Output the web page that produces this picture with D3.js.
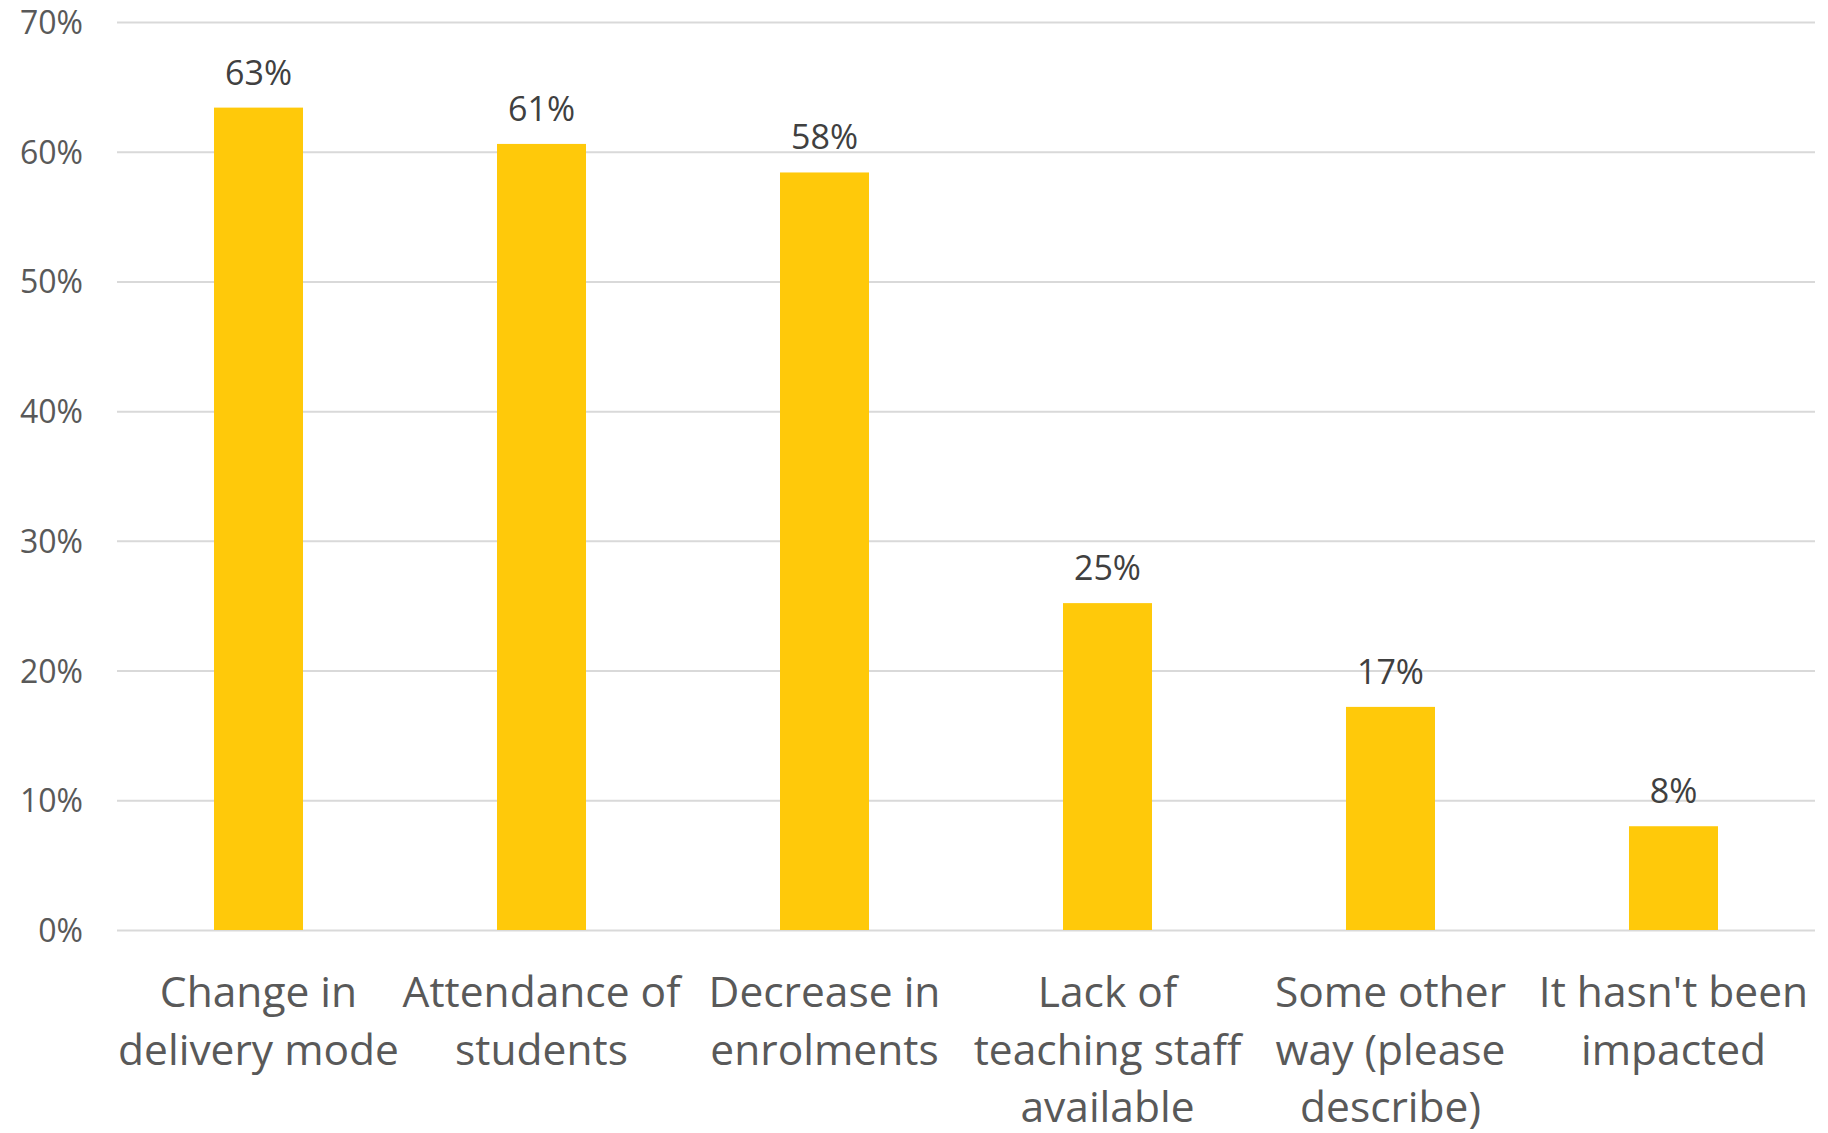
<!DOCTYPE html>
<html>
<head>
<meta charset="utf-8">
<script src="https://cdn.jsdelivr.net/npm/d3@7"></script>
<style>
  body { margin: 0; background: #fff; }
  text { font-family: "Open Sans", sans-serif; }
</style>
</head>
<body>
<div id="chart"></div>
<script>
// category labels, line breaks as in the original
var categories = [
    "Change in\ndelivery mode",
    "Attendance of\nstudents",
    "Decrease in\nenrolments",
    "Lack of\nteaching staff\navailable",
    "Some other\nway (please\ndescribe)",
    "It hasn't been\nimpacted"
];
var values = [0.634, 0.606, 0.584, 0.252, 0.172, 0.080];
var valueLabels = ["63%", "61%", "58%", "25%", "17%", "8%"];
var yTicks = [0, 0.1, 0.2, 0.3, 0.4, 0.5, 0.6, 0.7];

var margin = { top: 22, right: 13, bottom: 203, left: 117 };
var width = 1828 - margin.left - margin.right;
var height = 1133 - margin.top - margin.bottom;

var svg = d3.select("#chart").append("svg")
    .attr("width", 1828)
    .attr("height", 1133)
    .append("g")
    .attr("transform", "translate(" + margin.left + "," + margin.top + ")");

var x = d3.scaleBand()
    .domain(categories)
    .range([0, width])
    .paddingInner(0.6855)
    .paddingOuter(0.3428);

var y = d3.scaleLinear()
    .domain([0, 0.7])
    .range([height, 0]);

// gridlines + tick labels
var yAxis = d3.axisLeft(y)
    .tickValues(yTicks)
    .tickSize(-width)
    .tickPadding(34)
    .tickFormat(d3.format(".0%"));

var gy = svg.append("g").attr("class", "y-axis").call(yAxis);
gy.select(".domain").remove();
gy.selectAll(".tick line")
    .attr("stroke", "#d9d9d9")
    .attr("stroke-width", 2);
gy.selectAll(".tick text")
    .attr("fill", "#595959")
    .style("font-size", "32px")
    .attr("dy", "0.36em");

svg.selectAll("rect.bar")
    .data(values)
    .enter()
    .append("rect")
    .attr("class", "bar")
    .attr("x", function (d, i) { return x(categories[i]); })
    .attr("y", function (d) { return y(d); })
    .attr("width", x.bandwidth())
    .attr("height", function (d) { return height - y(d); })
    .attr("fill", "#ffc90a");

svg.selectAll("text.val")
    .data(values)
    .enter()
    .append("text")
    .attr("class", "val")
    .attr("x", function (d, i) { return x(categories[i]) + x.bandwidth() / 2; })
    .attr("y", function (d) { return y(d) - 23; })
    .attr("text-anchor", "middle")
    .attr("fill", "#404040")
    .style("font-size", "34px")
    .text(function (d, i) { return valueLabels[i]; });

// category labels below the axis
var cat = svg.selectAll("text.cat")
    .data(categories)
    .enter()
    .append("text")
    .attr("class", "cat")
    .attr("text-anchor", "middle")
    .attr("fill", "#595959")
    .style("font-size", "42.5px")
    .attr("transform", function (d) {
        return "translate(" + (x(d) + x.bandwidth() / 2) + "," + (height + 77) + ")";
    });

cat.selectAll("tspan")
    .data(function (d) { return d.split("\n"); })
    .enter()
    .append("tspan")
    .attr("x", 0)
    .attr("y", function (d, i) { return i * 57.5; })
    .text(function (d) { return d; });
</script>
</body>
</html>
